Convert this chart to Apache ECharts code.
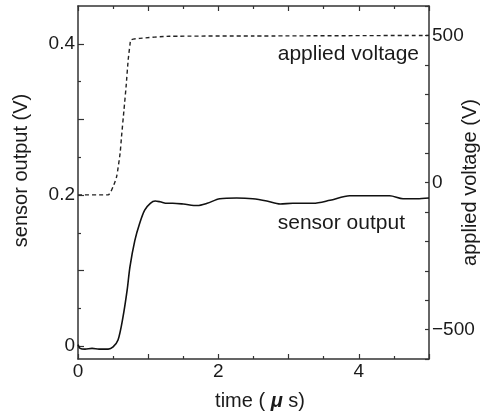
<!DOCTYPE html>
<html>
<head>
<meta charset="utf-8">
<script src="https://cdn.jsdelivr.net/npm/echarts@6/dist/echarts.min.js"></script>
<style>
  html, body { margin: 0; padding: 0; background: #fff; }
  #chart { width: 484px; height: 417px; }
</style>
</head>
<body>
<div id="chart"></div>
<script>
// sensor output (V) against time (us)
var sensorTime = [0, 0.03, 0.1, 0.2, 0.3, 0.43, 0.5, 0.57, 0.64, 0.70, 0.74, 0.81, 0.88, 0.95,
    1.03, 1.1, 1.17, 1.27, 1.35, 1.5, 1.7, 1.84, 2.02, 2.26, 2.49, 2.69, 2.88, 3.06,
    3.35, 3.59, 3.87, 4.16, 4.44, 4.63, 4.83, 5.0];
var sensorValue = [0.002, -0.003, -0.004, -0.003, -0.004, -0.004, -0.001, 0.008, 0.038, 0.074, 0.105, 0.140, 0.163, 0.180,
    0.189, 0.192, 0.191, 0.189, 0.189, 0.188, 0.186, 0.189, 0.195, 0.196, 0.195, 0.192, 0.188, 0.189,
    0.189, 0.193, 0.199, 0.199, 0.199, 0.195, 0.195, 0.196];

// applied voltage (V) against time (us)
var voltTime = [0, 0.43, 0.50, 0.55, 0.60, 0.62, 0.655, 0.685, 0.715, 0.74, 0.755, 0.88, 1.3, 2.5, 5.0];
var voltValue = [-42, -42, -14, 20, 100, 156, 247, 326, 417, 468, 485, 490, 497, 498, 500];

var timeLabels = [0, 2, 4];
var sensorLabels = [0, 0.2, 0.4];
var sensorMajorTicks = [0, 0.1, 0.2, 0.3, 0.4];
var sensorMinorTicks = [0.05, 0.15, 0.25, 0.35];
var voltLabels = [-500, 0, 500];

var FONT = "'Liberation Sans', Arial, Helvetica, sans-serif";
var INK = '#1a1a1a';

function pairs(xs, ys) {
    return xs.map(function (x, i) { return [x, ys[i]]; });
}

var axisLine = { show: true, onZero: false, lineStyle: { color: '#333', width: 1.5 } };
var tickStyle = { color: '#333', width: 1.2 };

var chart = echarts.init(document.getElementById('chart'));

chart.setOption({
    animation: false,
    backgroundColor: '#fff',
    grid: { left: 78, right: 55, top: 6, bottom: 58, outerBoundsMode: 'none', containLabel: false },
    xAxis: [{
        type: 'value', position: 'bottom', min: 0, max: 5, interval: 1,
        name: 'time ( {mu|μ} s)', nameLocation: 'middle', nameGap: 32, nameMoveOverlap: false,
        nameTextStyle: {
            fontFamily: FONT, fontSize: 20, color: INK, padding: [0, 0, 0, 13],
            rich: { mu: { fontFamily: FONT, fontSize: 20, fontStyle: 'italic', fontWeight: 'bold', color: INK } }
        },
        axisLine: axisLine,
        axisTick: { inside: true, length: 5, lineStyle: tickStyle },
        minorTick: { show: true, splitNumber: 2, length: 3, lineStyle: tickStyle },
        splitLine: { show: false },
        axisLabel: {
            margin: 3, fontFamily: FONT, fontSize: 19, color: INK,
            formatter: function (v) { return timeLabels.indexOf(v) >= 0 ? String(v) : ''; }
        }
    }, {
        type: 'value', position: 'top', min: 0, max: 5, interval: 1,
        axisLine: axisLine,
        axisTick: { inside: true, length: 5, lineStyle: tickStyle },
        minorTick: { show: true, splitNumber: 2, length: 3, lineStyle: tickStyle },
        splitLine: { show: false },
        axisLabel: { show: false }
    }],
    yAxis: [{
        type: 'value', position: 'left', min: -0.017, max: 0.45,
        name: 'sensor output (V)', nameLocation: 'middle', nameGap: 47, nameRotate: 90, nameMoveOverlap: false,
        nameTextStyle: { fontFamily: FONT, fontSize: 20, color: INK, padding: [0, 0, 0, 24] },
        axisLine: axisLine,
        axisTick: { inside: true, length: 6, customValues: sensorMajorTicks, lineStyle: tickStyle },
        splitLine: { show: false },
        axisLabel: {
            margin: 3, fontFamily: FONT, fontSize: 19, color: INK,
            customValues: sensorLabels,
            formatter: function (v) { return String(v); }
        }
    }, {
        type: 'value', position: 'right', min: -600, max: 600, interval: 100,
        name: 'applied voltage (V)', nameLocation: 'middle', nameGap: 31, nameRotate: 90, nameMoveOverlap: false,
        nameTextStyle: { fontFamily: FONT, fontSize: 20, color: INK },
        axisLine: axisLine,
        axisTick: { inside: true, length: 4, lineStyle: tickStyle },
        splitLine: { show: false },
        axisLabel: {
            margin: 3, fontFamily: FONT, fontSize: 19, color: INK,
            formatter: function (v) {
                if (voltLabels.indexOf(v) < 0) return '';
                return v < 0 ? '\u2212' + Math.abs(v) : String(v);
            }
        }
    }, {
        type: 'value', position: 'left', min: -0.017, max: 0.45,
        axisLine: { show: false },
        axisTick: { show: true, inside: true, length: 3, customValues: sensorMinorTicks, lineStyle: tickStyle },
        splitLine: { show: false },
        axisLabel: { show: false }
    }],
    graphic: [{
        type: 'text', right: 484 - 419, top: 44,
        style: { text: 'applied voltage', font: '21px ' + FONT, fill: INK }
    }, {
        type: 'text', right: 484 - 405, top: 213,
        style: { text: 'sensor output', font: '21px ' + FONT, fill: INK }
    }],
    series: [{
        name: 'applied voltage', type: 'line', xAxisIndex: 0, yAxisIndex: 1,
        data: pairs(voltTime, voltValue), showSymbol: false, smooth: 0.2,
        lineStyle: { color: '#222', width: 1.4, type: [4, 3] }
    }, {
        name: 'sensor output', type: 'line', xAxisIndex: 0, yAxisIndex: 0,
        data: pairs(sensorTime, sensorValue), showSymbol: false, smooth: 0.3,
        lineStyle: { color: '#111', width: 1.6 }
    }]
});
</script>
</body>
</html>
